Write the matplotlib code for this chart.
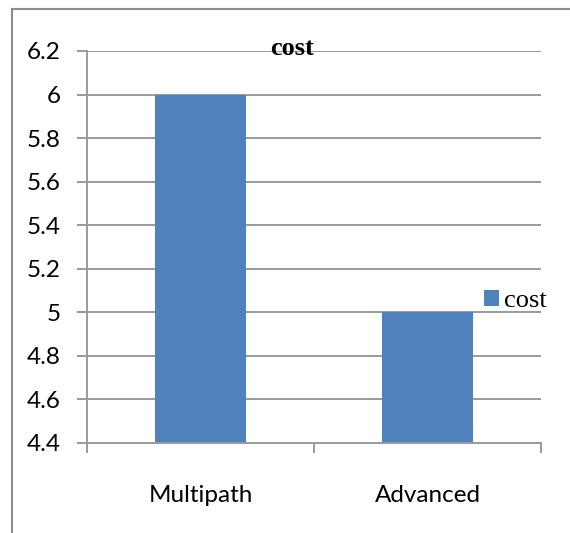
import matplotlib
matplotlib.use('Agg')
import matplotlib.pyplot as plt
from matplotlib.lines import Line2D

# Datos del grafico
categorias = ['Multipath', 'Advanced']
costo = [6, 5]
serie = 'cost'

W, H = 570, 533
fig = plt.figure(figsize=(W / 100, H / 100), dpi=100)

# Area del grafico (en pixeles)
izq, der, arriba, abajo = 87, 541, 51, 443
ax = fig.add_axes([izq / W, 1 - abajo / H, (der - izq) / W, (abajo - arriba) / H])

gris = '#9a9a9a'
x = list(range(len(categorias)))
ax.bar(x, costo, width=0.4, color='#4f81bd', label=serie, zorder=2)

ax.set_xlim(-0.5, len(categorias) - 0.5)
ax.set_ylim(4.4, 6.2)
yt = [4.4 + 0.2 * i for i in range(10)]
ax.set_yticks(yt)
ax.set_yticklabels([f'{v:g}' for v in [round(t, 1) for t in yt]])
ax.yaxis.grid(True, color=gris, linewidth=1.4, zorder=0)
ax.set_axisbelow(True)

# Marcas de separacion entre categorias y etiquetas centradas
ax.set_xticks([i - 0.5 for i in range(len(categorias) + 1)])
ax.set_xticklabels([])
ax.set_xticks(x, minor=True)
ax.set_xticklabels(categorias, minor=True)
ax.tick_params(axis='x', which='major', length=7, width=1.4, color=gris, direction='out')
ax.tick_params(axis='x', which='minor', length=0, pad=30)
ax.tick_params(axis='y', length=7, width=1.4, color=gris, pad=12)

for lbl in ax.get_xticklabels(minor=True) + ax.get_yticklabels():
    lbl.set_fontfamily('Lato')
    lbl.set_fontsize(17.5)

for s in ['top', 'right']:
    ax.spines[s].set_visible(False)
for s in ['left', 'bottom']:
    ax.spines[s].set_color(gris)
    ax.spines[s].set_linewidth(1.4)

fig.text(292 / W, 1 - 55 / H, 'cost', ha='center', va='baseline',
         fontfamily='Liberation Serif', fontweight='bold', fontsize=19)

leg = fig.legend(loc='center left', bbox_to_anchor=(484 / W, 1 - 301 / H),
                 frameon=False, borderpad=0, borderaxespad=0,
                 handlelength=0.55, handleheight=0.55, handletextpad=0.2,
                 prop={'family': 'Liberation Serif', 'size': 19})

# Borde del area del grafico
fig.add_artist(Line2D([12 / W, 12 / W], [0, 1 - 9 / H], color='#8c8c8c', linewidth=1.5))
fig.add_artist(Line2D([12 / W, 1], [1 - 9 / H, 1 - 9 / H], color='#8c8c8c', linewidth=1.5))

fig.savefig('out.png', dpi=100)
